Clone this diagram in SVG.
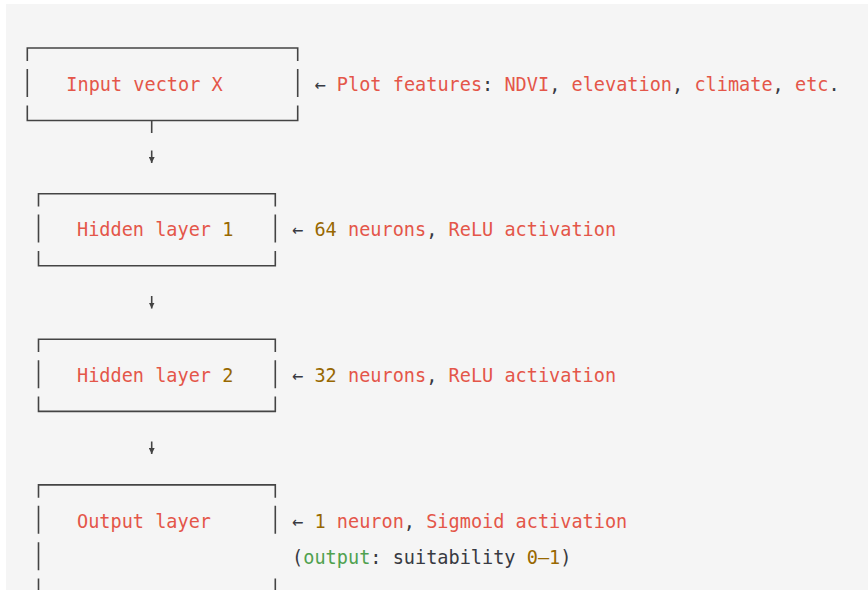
<svg xmlns="http://www.w3.org/2000/svg" width="868" height="590" viewBox="0 0 868 590">
  <style>
    text { font-family: "DejaVu Sans Mono", "Liberation Mono", monospace; font-size: 18.57px; fill: #383a42; white-space: pre; }
    .r { fill: #e45649; }
    .n { fill: #986801; }
    .g { fill: #50a14f; }
    .box { fill: none; stroke: #444444; stroke-width: 1.6; }
    .conn { fill: none; stroke: #444444; stroke-width: 1.6; }
  </style>
  <defs>
    <marker id="ah" viewBox="0 0 6 6" refX="6" refY="3" markerWidth="6" markerHeight="6" markerUnits="userSpaceOnUse" orient="auto">
      <path d="M0,0 L6,3 L0,6 Z" fill="#444444"/>
    </marker>
  </defs>
  <rect x="0" y="0" width="868" height="590" fill="#ffffff"/>
  <rect x="6" y="4" width="862" height="586" fill="#f5f5f5"/>

  <g id="input-node">
    <path class="box" d="M27.3,61 V48 H297.7 V61 M27.3,69 V97 M297.7,69 V97 M27.3,105.5 V120.5 H297.7 V105.5"/>
    <text x="66.3" y="0" class="r" transform="matrix(1 0 0 1.08 0 90.6)">Input vector X</text>
  </g>
  <g id="input-note">
    <text x="314.5" y="0" transform="matrix(1 0 0 1.08 0 90.6)">←<tspan class="r"> Plot features</tspan>:<tspan class="r"> NDVI</tspan>,<tspan class="r"> elevation</tspan>,<tspan class="r"> climate</tspan>,<tspan class="r"> etc</tspan>.</text>
  </g>

  <g id="hidden1-node">
    <path class="box" d="M38.5,206.5 V193.7 H275.3 V206.5 M38.5,214.6 V242.6 M275.3,214.6 V242.6 M38.5,251 V265.8 H275.3 V251"/>
    <text x="77" y="0" transform="matrix(1 0 0 1.08 0 236.3)"><tspan class="r">Hidden layer </tspan><tspan class="n">1</tspan></text>
  </g>
  <g id="hidden1-note">
    <text x="292.1" y="0" transform="matrix(1 0 0 1.08 0 236.3)">←<tspan class="n"> 64</tspan><tspan class="r"> neurons</tspan>,<tspan class="r"> ReLU activation</tspan></text>
  </g>

  <g id="hidden2-node">
    <path class="box" d="M38.5,352.1 V339.3 H275.3 V352.1 M38.5,360.2 V388.2 M275.3,360.2 V388.2 M38.5,396.6 V411.4 H275.3 V396.6"/>
    <text x="77" y="0" transform="matrix(1 0 0 1.08 0 381.9)"><tspan class="r">Hidden layer </tspan><tspan class="n">2</tspan></text>
  </g>
  <g id="hidden2-note">
    <text x="292.1" y="0" transform="matrix(1 0 0 1.08 0 381.9)">←<tspan class="n"> 32</tspan><tspan class="r"> neurons</tspan>,<tspan class="r"> ReLU activation</tspan></text>
  </g>

  <g id="output-node">
    <path class="box" d="M38.5,497.7 V484.9 H275.3 V497.7 M38.5,505.8 V533.8 M275.3,505.8 V533.8 M38.5,542.2 V570.2 M38.5,578.6 V590 M275.3,578.6 V590"/>
    <text x="77" y="0" class="r" transform="matrix(1 0 0 1.08 0 527.5)">Output layer</text>
  </g>
  <g id="output-note">
    <text x="292.1" y="0" transform="matrix(1 0 0 1.08 0 527.5)">←<tspan class="n"> 1</tspan><tspan class="r"> neuron</tspan>,<tspan class="r"> Sigmoid activation</tspan></text>
    <text x="292.1" y="0" transform="matrix(1 0 0 1.08 0 563.9)">(<tspan class="g">output</tspan>: suitability <tspan class="n">0–1</tspan>)</text>
  </g>

  <g id="connectors">
    <path class="conn" d="M151.7,120.5 V133"/>
    <path class="conn" d="M151.7,150.5 V163" marker-end="url(#ah)"/>
    <path class="conn" d="M151.7,296 V308.5" marker-end="url(#ah)"/>
    <path class="conn" d="M151.7,441.5 V454" marker-end="url(#ah)"/>
  </g>
</svg>
